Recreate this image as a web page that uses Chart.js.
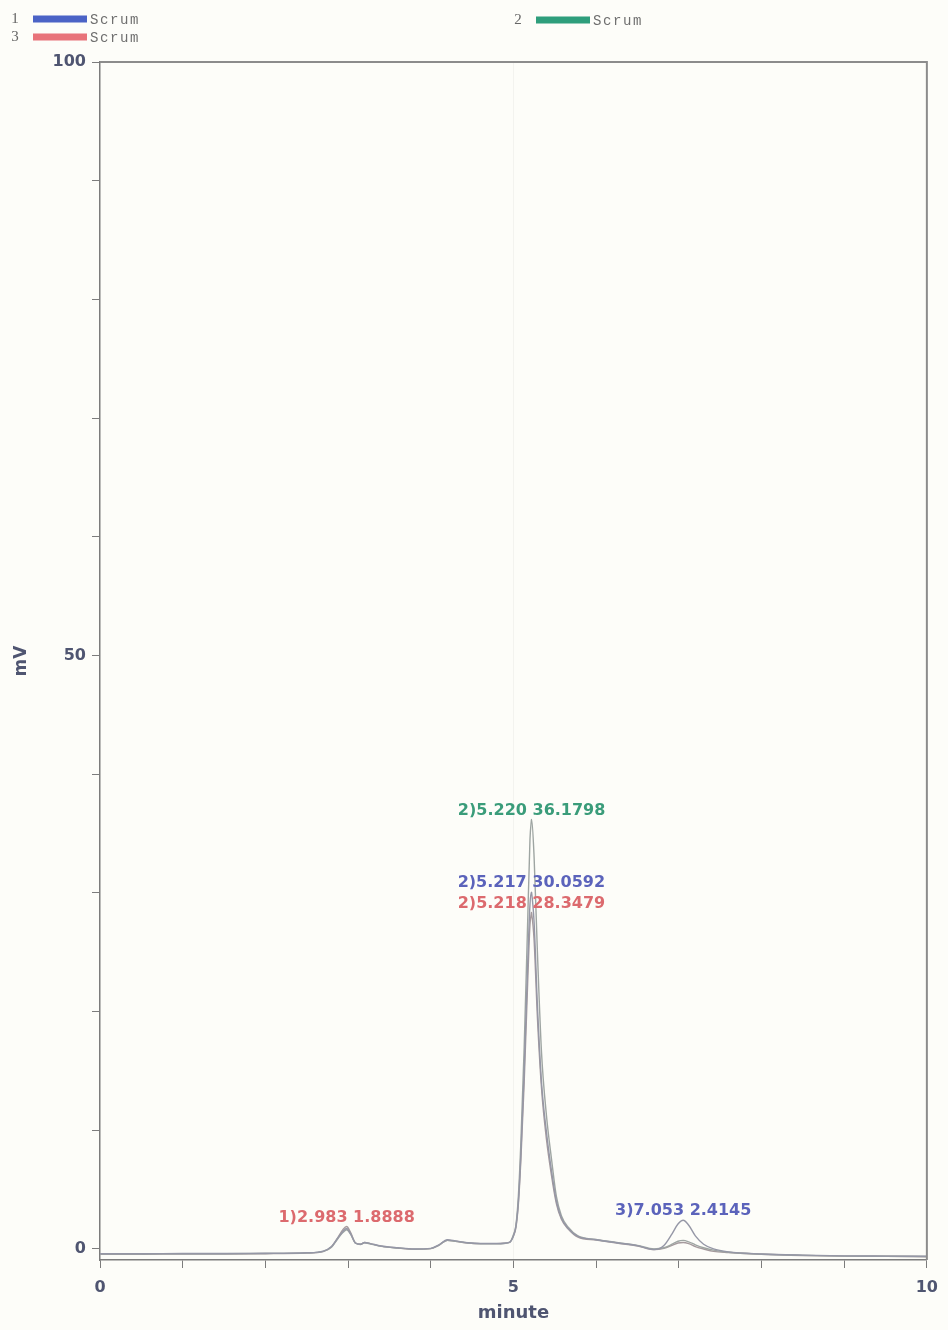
<!DOCTYPE html>
<html>
<head>
<meta charset="utf-8">
<title>Serum chromatogram</title>
<script src="https://cdn.jsdelivr.net/npm/chart.js@4.4.1/dist/chart.umd.min.js"></script>
<style>
  html, body { margin: 0; padding: 0; background: #fdfdf9; }
  #wrap { width: 948px; height: 1330px; position: relative; }
  canvas { display: block; }
</style>
</head>
<body>
<div id="wrap"><canvas id="chart" width="948" height="1330"></canvas></div>
<script>
// Retention time axis (minutes), shared by the three traces
const minutes = [
  0, 0.5, 1.0, 1.5, 2.0, 2.5, 2.7, 2.8, 2.88, 2.94, 2.983, 3.03, 3.09, 3.15, 3.2, 3.27,
  3.4, 3.6, 3.8, 4.0, 4.1, 4.2, 4.3, 4.45, 4.6, 4.8, 4.95,
  5.0, 5.03, 5.06, 5.09, 5.13, 5.17, 5.2, 5.217, 5.218, 5.22, 5.25, 5.29, 5.34, 5.4,
  5.46, 5.52, 5.58, 5.66, 5.78,
  6.0, 6.25, 6.5, 6.7, 6.82, 6.92, 6.99, 7.053, 7.12, 7.2, 7.3, 7.42, 7.6, 8.0, 8.5, 9.0, 9.5, 10.0
];

// Detector signal (mV) for each injection
const trace1 = [
  -0.40, -0.40, -0.38, -0.38, -0.36, -0.32, -0.18, 0.2, 0.95, 1.5, 1.72, 1.3, 0.5, 0.4, 0.55, 0.45,
  0.25, 0.1, 0.0, 0.05, 0.35, 0.78, 0.68, 0.52, 0.46, 0.46, 0.56,
  1.1, 1.9, 4.0, 8.0, 15.0, 23.5, 29.0, 30.0592, 30.05, 30.0, 27.5, 20.5, 14.0, 9.8,
  6.6, 4.0, 2.6, 1.75, 1.05,
  0.78, 0.52, 0.28, -0.05, 0.3, 1.3, 2.1, 2.4145, 2.0, 1.1, 0.4, 0.0, -0.25, -0.42, -0.52, -0.58, -0.6, -0.62
];
const trace2 = [
  -0.42, -0.42, -0.40, -0.40, -0.38, -0.33, -0.2, 0.15, 0.9, 1.4, 1.62, 1.25, 0.48, 0.38, 0.52, 0.42,
  0.22, 0.08, -0.02, 0.03, 0.32, 0.72, 0.64, 0.5, 0.44, 0.44, 0.54,
  1.2, 2.0, 4.5, 9.0, 17.0, 27.0, 34.5, 36.1, 36.15, 36.1798, 33.0, 25.0, 16.5, 11.2,
  7.6, 4.4, 2.8, 1.85, 1.1,
  0.8, 0.55, 0.3, 0.0, 0.1, 0.4, 0.65, 0.72, 0.6, 0.35, 0.1, -0.1, -0.28, -0.44, -0.54, -0.6, -0.62, -0.64
];
const trace3 = [
  -0.44, -0.44, -0.42, -0.42, -0.40, -0.35, -0.22, 0.18, 1.0, 1.65, 1.8888, 1.4, 0.5, 0.4, 0.55, 0.45,
  0.24, 0.08, -0.02, 0.03, 0.33, 0.74, 0.65, 0.5, 0.45, 0.45, 0.55,
  1.1, 1.8, 3.8, 7.5, 14.0, 22.0, 27.3, 28.3, 28.3479, 28.3, 26.0, 19.5, 13.5, 9.2,
  6.2, 3.8, 2.5, 1.7, 1.0,
  0.75, 0.5, 0.25, -0.05, 0.05, 0.3, 0.5, 0.55, 0.45, 0.2, 0.0, -0.2, -0.3, -0.45, -0.55, -0.6, -0.62, -0.65
];

const traceNumbers = ['1', '2', '3'];
const traceNames = ['Scrum', 'Scrum', 'Scrum'];

// Axis ticks
const yTickValues = [0, 10, 20, 30, 40, 50, 60, 70, 80, 90, 100];
const yTickLabels = [0, 50, 100];
const xTickValues = [0, 1, 2, 3, 4, 5, 6, 7, 8, 9, 10];
const xTickLabels = [0, 5, 10];

// Integrated peaks: trace index, peak number, retention time, height
const peakTrace = [2, 0, 1, 2, 0];
const peakNumber = [1, 2, 2, 2, 3];
const peakTime = [2.983, 5.217, 5.220, 5.218, 7.053];
const peakHeight = [1.8888, 30.0592, 36.1798, 28.3479, 2.4145];

// Styling
const legendColors = ['#4b63c6', '#2f9e7c', '#e8737a'];
const labelColors = ['#5b63bb', '#3a9c7a', '#dc6a6e'];
const lineColors = ['#9597a6', '#9ea5a2', '#a59a9d'];
const axisColor = '#7c7c7c';
const textColor = '#4f5571';

const toPoints = vals => minutes.map((m, i) => ({ x: m, y: vals[i] }));

const backgroundPlugin = {
  id: 'paper',
  beforeDraw(chart) {
    const { ctx, width, height } = chart;
    ctx.save();
    ctx.fillStyle = '#fdfdf9';
    ctx.fillRect(0, 0, width, height);
    ctx.restore();
  }
};

const framePlugin = {
  id: 'frame',
  afterDraw(chart) {
    const { ctx, chartArea: a } = chart;
    ctx.save();
    ctx.strokeStyle = '#8c8c8c';
    ctx.lineWidth = 2;
    ctx.beginPath();
    ctx.moveTo(a.left, a.top);
    ctx.lineTo(a.right, a.top);
    ctx.lineTo(a.right, a.bottom);
    ctx.stroke();
    ctx.restore();
  }
};

const peakLabelPlugin = {
  id: 'peakLabels',
  afterDatasetsDraw(chart) {
    const { ctx, scales: { x, y } } = chart;
    ctx.save();
    ctx.font = 'bold 16px "DejaVu Sans"';
    ctx.textAlign = 'center';
    ctx.textBaseline = 'bottom';
    peakTime.forEach((t, i) => {
      const px = x.getPixelForValue(t);
      const py = y.getPixelForValue(peakHeight[i]);
      ctx.fillStyle = labelColors[peakTrace[i]];
      ctx.fillText(peakNumber[i] + ')' + t.toFixed(3) + ' ' + peakHeight[i].toFixed(4), px, py - 1);
    });
    ctx.restore();
  }
};

const traceLegendPlugin = {
  id: 'traceLegend',
  afterDraw(chart) {
    const { ctx } = chart;
    // slot origins for traces 1, 2, 3
    const slots = [{ x: 15, y: 19 }, { x: 518, y: 20 }, { x: 15, y: 37 }];
    ctx.save();
    ctx.textBaseline = 'middle';
    chart.data.datasets.forEach((ds, i) => {
      const s = slots[i];
      ctx.fillStyle = '#666';
      ctx.font = '15px "Liberation Serif"';
      ctx.textAlign = 'center';
      ctx.fillText(traceNumbers[i], s.x, s.y);
      ctx.fillStyle = legendColors[i];
      ctx.fillRect(s.x + 18, s.y - 3.5, 54, 7);
      ctx.fillStyle = '#6f6f6f';
      ctx.font = '14px "Liberation Mono"';
      ctx.textAlign = 'left';
      ctx.letterSpacing = '1.6px';
      ctx.fillText(ds.label, s.x + 75, s.y + 1);
      ctx.letterSpacing = '0px';
    });
    ctx.restore();
  }
};

new Chart(document.getElementById('chart'), {
  type: 'line',
  data: {
    datasets: [trace1, trace2, trace3].map((vals, i) => ({
      label: traceNames[i],
      data: toPoints(vals),
      borderColor: lineColors[i],
      borderWidth: 1.4,
      pointRadius: 0,
      fill: false,
      cubicInterpolationMode: 'monotone'
    }))
  },
  options: {
    responsive: false,
    animation: false,
    devicePixelRatio: 1,
    layout: { padding: { top: 62, right: 18, left: 0, bottom: 0 } },
    plugins: {
      legend: { display: false },
      tooltip: { enabled: false }
    },
    scales: {
      x: {
        type: 'linear',
        min: 0,
        max: 10,
        afterBuildTicks: s => { s.ticks = xTickValues.map(v => ({ value: v })); },
        afterFit: s => { s.height = 70; },
        ticks: {
          autoSkip: false,
          maxRotation: 0,
          padding: 10,
          color: textColor,
          font: { family: 'DejaVu Sans', size: 16, weight: 'bold' },
          callback: v => (xTickLabels.includes(v) ? String(v) : '')
        },
        grid: {
          drawOnChartArea: true,
          color: c => (c.tick && c.tick.value === 5 ? 'rgba(120,120,120,0.07)' : 'rgba(0,0,0,0)'),
          tickColor: axisColor,
          tickLength: 8,
          tickWidth: 1
        },
        border: { display: true, color: axisColor, width: 1.5 },
        title: {
          display: true,
          text: 'minute',
          color: textColor,
          font: { family: 'DejaVu Sans', size: 18, weight: 'bold' },
          padding: { top: 0, bottom: 6 }
        }
      },
      y: {
        type: 'linear',
        min: -0.93,
        max: 100,
        afterBuildTicks: s => { s.ticks = yTickValues.map(v => ({ value: v })); },
        afterFit: s => { s.width = 100; },
        ticks: {
          autoSkip: false,
          padding: 6,
          color: textColor,
          font: { family: 'DejaVu Sans', size: 16, weight: 'bold' },
          callback: v => (yTickLabels.includes(v) ? String(v) : '')
        },
        grid: {
          drawOnChartArea: false,
          tickColor: axisColor,
          tickLength: 8,
          tickWidth: 1
        },
        border: { display: true, color: axisColor, width: 1.5 },
        title: {
          display: true,
          text: 'mV',
          color: textColor,
          font: { family: 'DejaVu Sans', size: 17, weight: 'bold' },
          padding: { top: 11, bottom: 0 }
        }
      }
    }
  },
  plugins: [backgroundPlugin, framePlugin, peakLabelPlugin, traceLegendPlugin]
});
</script>
</body>
</html>
